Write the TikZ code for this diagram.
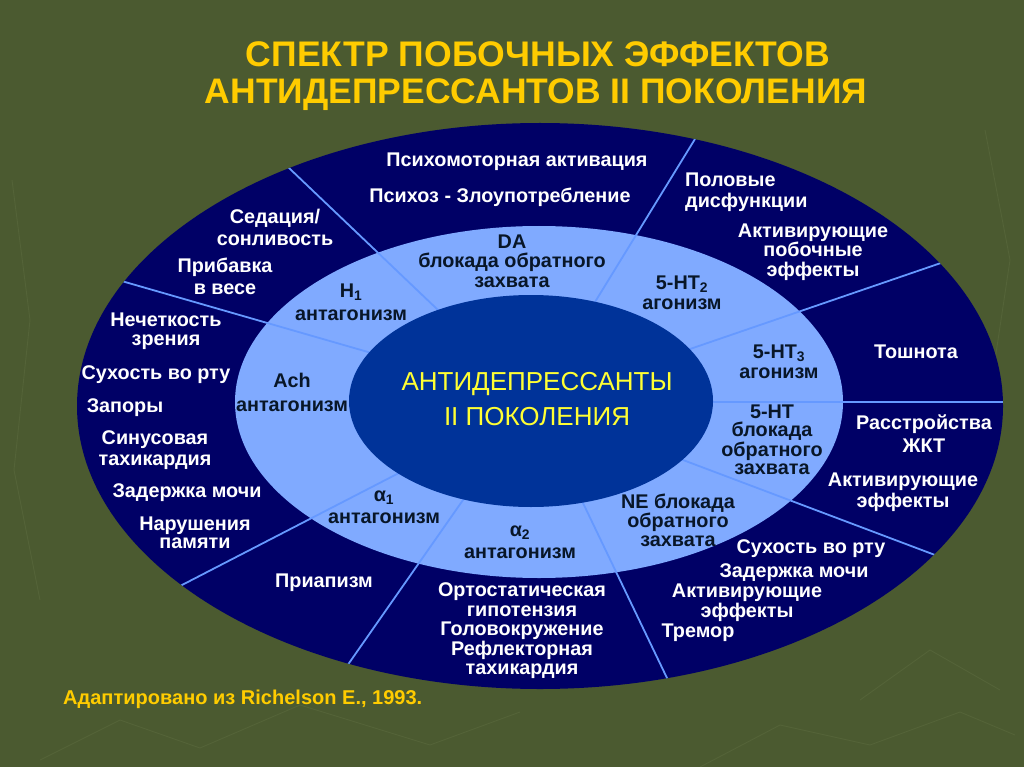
\documentclass[tikz,border=0pt]{standalone}
\usepackage{fontspec}
\setmainfont{Liberation Sans}
\usepackage{graphicx}
\usetikzlibrary{calc}
\definecolor{bgc}{RGB}{75,90,48}
\definecolor{texc}{RGB}{84,99,56}
\definecolor{outerc}{RGB}{0,0,102}
\definecolor{midc}{RGB}{128,170,255}
\definecolor{innerc}{RGB}{0,51,153}
\definecolor{divc}{RGB}{102,153,255}
\definecolor{darktxt}{RGB}{8,22,40}
\definecolor{titlec}{RGB}{255,204,0}
\definecolor{corec}{RGB}{255,255,51}
\tikzset{
  lbl/.style={font=\bfseries\fontsize{19.8}{#1}\selectfont, align=center, inner sep=0pt, text=white},
  lbl/.default=21,
  dlbl/.style={lbl=#1, text=darktxt},
  dlbl/.default=20,
  divider/.style={draw=divc, line width=1.8pt},
  texture/.style={draw=texc, line width=0.9pt},
  titletxt/.style={font=\bfseries\fontsize{34}{40}\selectfont, text=titlec, inner sep=0pt, anchor=base},
}
\begin{document}
\begin{tikzpicture}[x=1pt,y=-1pt]
\useasboundingbox (0,0) rectangle (1024,767);
\fill[bgc] (0,0) rectangle (1024,767);
% faint background texture
\draw[texture] (40,760) -- (120,720) -- (200,748) -- (300,705) -- (430,745) -- (520,712);
\draw[texture] (700,767) -- (780,725) -- (870,745) -- (960,712) -- (1015,735);
\draw[texture] (860,700) -- (930,650) -- (1000,690);
\draw[texture] (12,180) -- (30,320) -- (14,470) -- (40,600);
\draw[texture] (985,130) -- (1010,260) -- (995,360);
% ellipses
\fill[outerc] (540,406) ellipse [x radius=463, y radius=283];
\fill[midc] (539,402) ellipse [x radius=304, y radius=176];
% dividers
\coordinate (o1) at (289,168); \coordinate (i1) at (438,310);
\coordinate (o2) at (125,282); \coordinate (i2) at (368,352);
\coordinate (o3) at (695,139); \coordinate (i3) at (595,302);
\coordinate (o4) at (938,264); \coordinate (i4) at (690,349);
\coordinate (o5) at (1002,402); \coordinate (i5) at (710,402);
\coordinate (o6) at (935,555); \coordinate (i6) at (683,460);
\coordinate (o7) at (667,678); \coordinate (i7) at (583,503);
\coordinate (o8) at (347,666); \coordinate (i8) at (463,500);
\coordinate (o9) at (182,585); \coordinate (i9) at (397,474);
\begin{scope}
\clip (540,406) ellipse [x radius=463, y radius=283];
\foreach \k in {1,...,9}{
  \draw[divider] ($(o\k)!-0.05!(i\k)$) -- ($(i\k)!-0.05!(o\k)$);
}
\end{scope}
\fill[innerc] (531,401) ellipse [x radius=182, y radius=106];
% title
\node[titletxt] (t1) at (538,67) {\resizebox{584pt}{!}{СПЕКТР ПОБОЧНЫХ ЭФФЕКТОВ}};
\node[titletxt] (t2) at (536,104) {\resizebox{662pt}{!}{АНТИДЕПРЕССАНТОВ II ПОКОЛЕНИЯ}};
% core
\node[font=\fontsize{26}{35}\selectfont, text=corec, align=center, inner sep=0pt] (core) at (537,399) {АНТИДЕПРЕССАНТЫ\\II ПОКОЛЕНИЯ};
% outer ring labels
\node[lbl] (psy1) at (517,162) {Психомоторная активация};
\node[lbl] (psy2) at (500,197) {Психоз - Злоупотребление};
\node[lbl=22] (sed) at (275,227) {Седация/\\сонливость};
\node[lbl=22] (wt) at (225,276) {Прибавка\\в весе};
\node[lbl=21, align=left, anchor=west] (sex) at (685,192) {Половые\\дисфункции};
\node[lbl=19.5] (act1) at (813,252) {Активирующие\\побочные\\эффекты};
\node[lbl] (naus) at (916,352) {Тошнота};
\node[lbl=23] (gi) at (924,434) {Расстройства\\ЖКТ};
\node[lbl=21] (act2) at (903,492) {Активирующие\\эффекты};
\node[lbl] (dry2) at (811,549) {Сухость во рту};
\node[lbl] (ur2) at (794,573) {Задержка мочи};
\node[lbl=20] (act3) at (747,603) {Активирующие\\эффекты};
\node[lbl] (trem) at (698,633) {Тремор};
\node[lbl=19.5] (orth) at (522,631) {Ортостатическая\\гипотензия\\Головокружение\\Рефлекторная\\тахикардия};
\node[lbl] (pria) at (324,583) {Приапизм};
\node[lbl=18.5] (mem) at (195,533) {Нарушения\\памяти};
\node[lbl] (ur1) at (187,493) {Задержка мочи};
\node[lbl=21] (sin) at (155,450) {Синусовая\\тахикардия};
\node[lbl] (con) at (125,408) {Запоры};
\node[lbl] (dry1) at (156,375) {Сухость во рту};
\node[lbl=19] (vis) at (166,331) {Нечеткость\\зрения};
% middle ring labels
\node[dlbl=19.5] (da) at (512,261) {DA\\блокада обратного\\захвата};
\node[dlbl=23] (h1) at (351,302) {H\textsubscript{1}\\антагонизм};
\node[dlbl=20] (ht2) at (682,293) {5-HT\textsubscript{2}\\агонизм};
\node[dlbl=20] (ht3) at (779,362) {5-HT\textsubscript{3}\\агонизм};
\node[dlbl=18] (sert) at (772,440) {5-HT\\блокада\\обратного\\захвата};
\node[dlbl=19] (net) at (678,520) {NE блокада\\обратного\\захвата};
\node[dlbl=22] (a2) at (520,542) {α\textsubscript{2}\\антагонизм};
\node[dlbl=22] (a1) at (384,507) {α\textsubscript{1}\\антагонизм};
\node[dlbl=24] (ach) at (292,392) {Ach\\антагонизм};
% citation
\node[font=\bfseries\fontsize{16}{18}\selectfont, text=titlec, inner sep=0pt, anchor=base west] (ref) at (63,704) {\resizebox{359pt}{!}{Адаптировано из Richelson E., 1993.}};
\end{tikzpicture}
\end{document}
